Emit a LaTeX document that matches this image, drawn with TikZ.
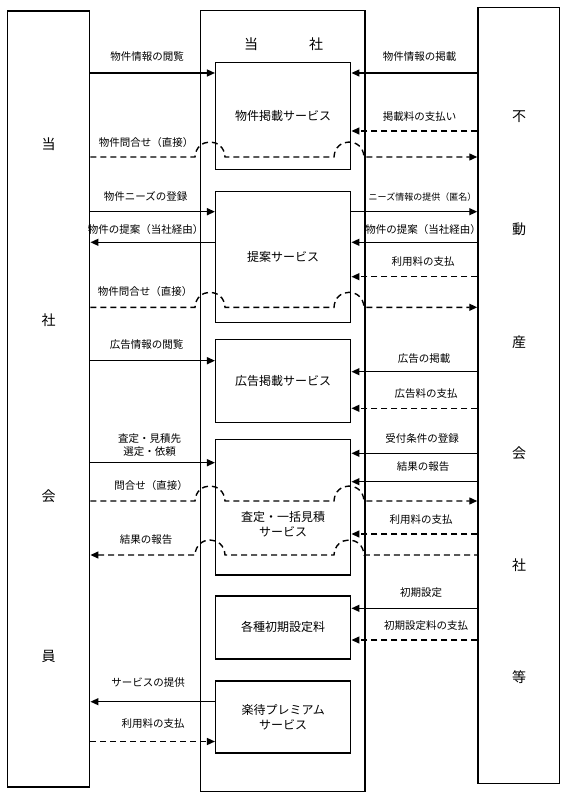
\documentclass[tikz,border=0pt]{standalone}
\usepackage{fontspec}
\setmainfont{Noto Sans CJK JP}
\usetikzlibrary{arrows.meta}
\begin{document}
\begin{tikzpicture}[x=1pt,y=-1pt,
  frame/.style={draw, line width=1.5pt, inner sep=0pt},
  lbl/.style={font=\fontsize{10.5}{13.4}\selectfont, inner sep=0pt, align=center},
  slbl/.style={font=\fontsize{9}{11}\selectfont, inner sep=0pt},
  boxtxt/.style={font=\fontsize{12}{15}\selectfont, inner sep=0pt, align=center},
  big/.style={font=\fontsize{14}{16}\selectfont, inner sep=0pt},
  flow/.style={line width=1.4pt, -{Triangle[length=8pt,width=7pt]}},
  dflow/.style={flow, dash pattern=on 6pt off 4pt},
  rflow/.style={line width=1.4pt, {Triangle[length=8pt,width=7pt]}-, dash pattern=on 6pt off 4pt}
]
\fill[white] (0,0) rectangle (567,799);
\useasboundingbox (0,0) rectangle (567,799);

% main frames
\node[frame, minimum width=82.4pt, minimum height=776pt] (L) at (48.5,399) {};
\node[frame, minimum width=164.3pt, minimum height=780.6pt] (C) at (282.85,401) {};
\node[frame, minimum width=81.3pt, minimum height=776pt] (R) at (518.65,395.3) {};

% side characters
\node[big] (l1) at (48.5,144) {当};
\node[big] (l2) at (48.5,320) {社};
\node[big] (l3) at (48.5,496.7) {会};
\node[big] (l4) at (48.5,656.7) {員};
\node[big] (r1) at (519,117) {不};
\node[big] (r2) at (519,229.3) {動};
\node[big] (r3) at (519,341.7) {産};
\node[big] (r4) at (519,453.3) {会};
\node[big] (r5) at (519,565) {社};
\node[big] (r6) at (519,676.7) {等};
\node[big] (ct) at (283.5,44) {当\hspace{51pt}社};

% inner service boxes
\node[frame, boxtxt, minimum width=135pt, minimum height=107pt] (B1) at (283.2,115.8) {物件掲載サービス};
\node[frame, boxtxt, minimum width=135pt, minimum height=131pt] (B2) at (283.2,257.2) {提案サービス};
\node[frame, boxtxt, minimum width=135pt, minimum height=83pt] (B3) at (283.2,380.8) {広告掲載サービス};
\node[frame, minimum width=135pt, minimum height=135.7pt] (B4) at (283.2,507.2) {};
\node[boxtxt] (B4t) at (283.2,524.2) {査定・一括見積\\サービス};
\node[frame, boxtxt, minimum width=135pt, minimum height=63.3pt] (B5) at (283.2,627.4) {各種初期設定料};
\node[frame, boxtxt, minimum width=135pt, minimum height=72.3pt] (B6) at (283.2,716.9) {楽待プレミアム\\サービス};

% left labels
\node[lbl] (a1) at (147,57) {物件情報の閲覧};
\node[lbl] (a2) at (146,143) {物件問合せ（直接）};
\node[lbl] (a3) at (145.5,196.7) {物件ニーズの登録};
\node[lbl] (a4) at (145.5,229.3) {物件の提案（当社経由）};
\node[lbl] (a5) at (145,291.7) {物件問合せ（直接）};
\node[lbl] (a6) at (146.5,345) {広告情報の閲覧};
\node[lbl] (a7) at (149.5,445) {査定・見積先\\選定・依頼};
\node[lbl] (a8) at (151,486) {問合せ（直接）};
\node[lbl] (a9) at (146,539.3) {結果の報告};
\node[lbl] (a10) at (148,682.7) {サービスの提供};
\node[lbl] (a11) at (153,724) {利用料の支払};

% right labels
\node[lbl] (b1) at (419.5,57) {物件情報の掲載};
\node[lbl] (b2) at (419.5,117) {掲載料の支払い};
\node[slbl] (b3) at (422.5,196.7) {ニーズ情報の提供（匿名）};
\node[lbl] (b4) at (423,229.3) {物件の提案（当社経由）};
\node[lbl] (b5) at (423,261.7) {利用料の支払};
\node[lbl] (b6) at (424,358.3) {広告の掲載};
\node[lbl] (b7) at (426,393.3) {広告料の支払};
\node[lbl] (b8) at (422,438.3) {受付条件の登録};
\node[lbl] (b9) at (423,466.7) {結果の報告};
\node[lbl] (b10) at (421,520) {利用料の支払};
\node[lbl] (b11) at (421,592.3) {初期設定};
\node[lbl] (b12) at (426,625.7) {初期設定料の支払};

% section 1
\draw[flow] (L.east |- 0,73) -- (B1.west |- 0,73);
\draw[flow] (R.west |- 0,73) -- (B1.east |- 0,73);
\draw[dflow] (R.west |- 0,131) -- (B1.east |- 0,131);
\draw[dflow] (L.east |- 0,157) -- (195,157) .. controls (196,137) and (224,137) .. (225,157)
  -- (334,157) .. controls (335,137) and (363,137) .. (364,157) -- (R.west |- 0,157);

% section 2
\draw[flow] (L.east |- 0,211.7) -- (B2.west |- 0,211.7);
\draw[flow] (B2.east |- 0,211.7) -- (R.west |- 0,211.7);
\draw[flow] (B2.west |- 0,242.3) -- (L.east |- 0,242.3);
\draw[flow] (R.west |- 0,242.3) -- (B2.east |- 0,242.3);
\draw[dflow] (R.west |- 0,276.7) -- (B2.east |- 0,276.7);
\draw[dflow] (L.east |- 0,307.3) -- (195,307.3) .. controls (196,287.3) and (224,287.3) .. (225,307.3)
  -- (334,307.3) .. controls (335,287.3) and (363,287.3) .. (364,307.3) -- (R.west |- 0,307.3);

% section 3
\draw[flow] (L.east |- 0,360.7) -- (B3.west |- 0,360.7);
\draw[flow] (R.west |- 0,371.7) -- (B3.east |- 0,371.7);
\draw[dflow] (R.west |- 0,408.3) -- (B3.east |- 0,408.3);

% section 4
\draw[flow] (R.west |- 0,453.3) -- (B4.east |- 0,453.3);
\draw[flow] (L.east |- 0,462.7) -- (B4.west |- 0,462.7);
\draw[flow] (R.west |- 0,481.7) -- (B4.east |- 0,481.7);
\draw[dflow] (L.east |- 0,501) -- (195,501) .. controls (196,481) and (224,481) .. (225,501)
  -- (334,501) .. controls (335,481) and (363,481) .. (364,501) -- (R.west |- 0,501);
\draw[dflow] (R.west |- 0,534) -- (B4.east |- 0,534);
\draw[rflow] (L.east |- 0,555) -- (195,555) .. controls (196,535) and (224,535) .. (225,555)
  -- (334,555) .. controls (335,535) and (363,535) .. (364,555) -- (R.west |- 0,555);

% section 5
\draw[flow] (R.west |- 0,608.3) -- (B5.east |- 0,608.3);
\draw[dflow] (R.west |- 0,640) -- (B5.east |- 0,640);

% section 6
\draw[flow] (B6.west |- 0,701.7) -- (L.east |- 0,701.7);
\draw[dflow] (L.east |- 0,741.5) -- (B6.west |- 0,741.5);
\end{tikzpicture}
\end{document}
